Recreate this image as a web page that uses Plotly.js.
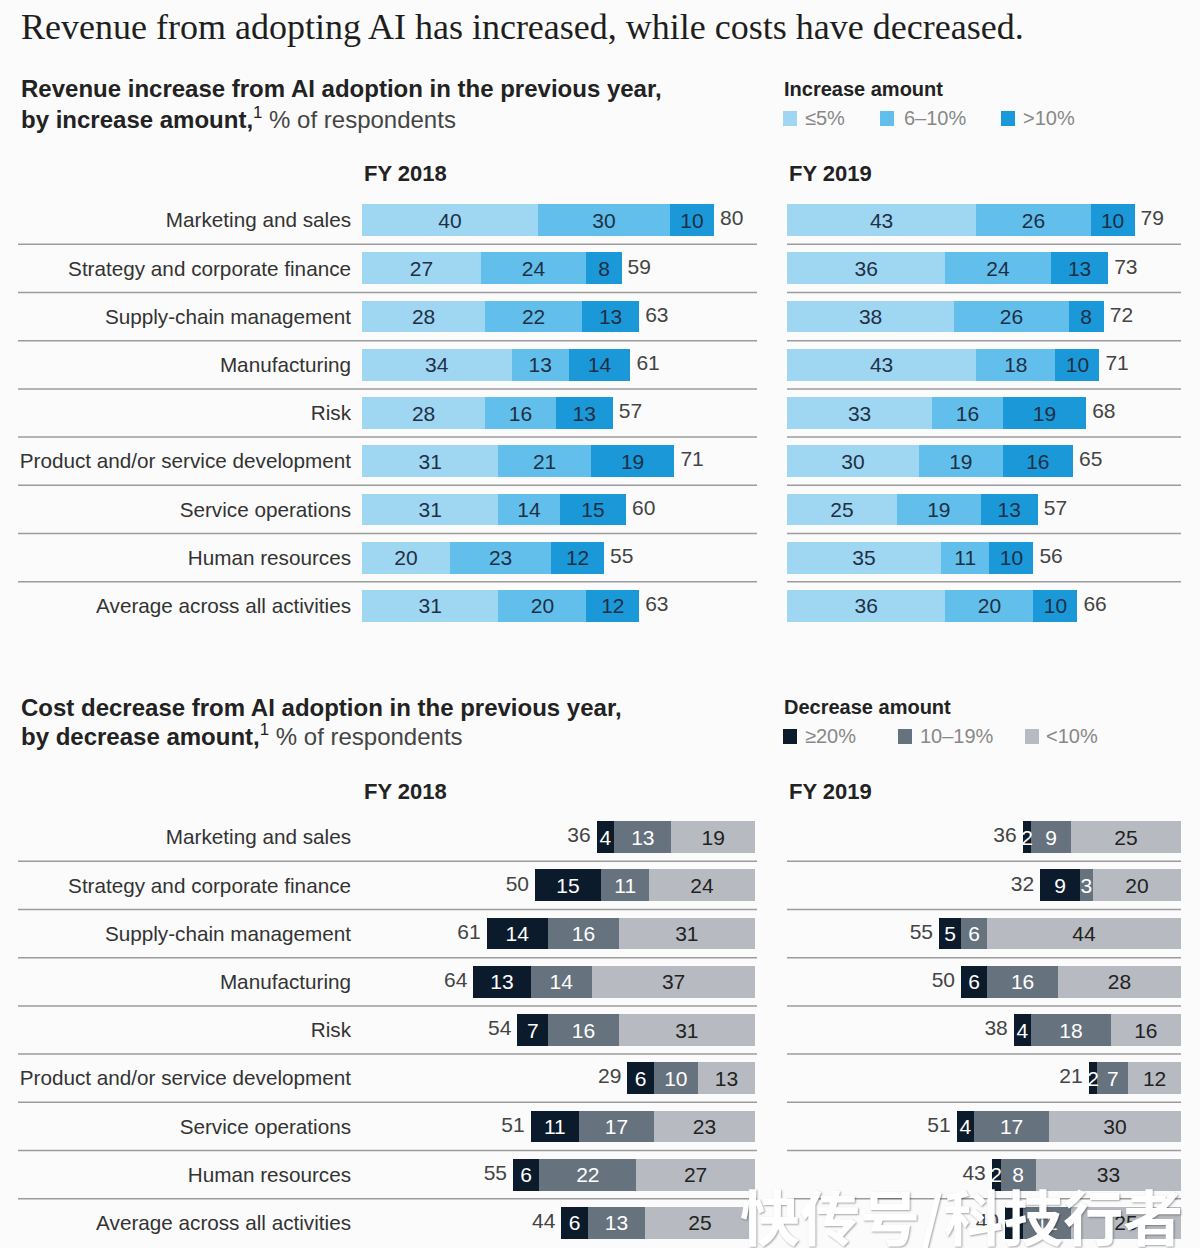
<!DOCTYPE html>
<html>
<head>
<meta charset="utf-8">
<script src="https://cdn.plot.ly/plotly-3.0.1.min.js"></script>
<style>html,body{margin:0;padding:0;background:#fbfbfb;overflow:hidden;}</style>
</head>
<body>
<div id="chart" style="width:1200px;height:1248px;"></div>
<script>
// ---------- DATA ----------
const categories = [
  "Marketing and sales",
  "Strategy and corporate finance",
  "Supply-chain management",
  "Manufacturing",
  "Risk",
  "Product and/or service development",
  "Service operations",
  "Human resources",
  "Average across all activities"
];

// Revenue increase, FY 2018
const rev2018_le5   = [40, 27, 28, 34, 28, 31, 31, 20, 31];
const rev2018_6to10 = [30, 24, 22, 13, 16, 21, 14, 23, 20];
const rev2018_gt10  = [10, 8, 13, 14, 13, 19, 15, 12, 12];
const rev2018_total = [80, 59, 63, 61, 57, 71, 60, 55, 63];

// Revenue increase, FY 2019
const rev2019_le5   = [43, 36, 38, 43, 33, 30, 25, 35, 36];
const rev2019_6to10 = [26, 24, 26, 18, 16, 19, 19, 11, 20];
const rev2019_gt10  = [10, 13, 8, 10, 19, 16, 13, 10, 10];
const rev2019_total = [79, 73, 72, 71, 68, 65, 57, 56, 66];

// Cost decrease, FY 2018
const cost2018_ge20   = [4, 15, 14, 13, 7, 6, 11, 6, 6];
const cost2018_10to19 = [13, 11, 16, 14, 16, 10, 17, 22, 13];
const cost2018_lt10   = [19, 24, 31, 37, 31, 13, 23, 27, 25];
const cost2018_total  = [36, 50, 61, 64, 54, 29, 51, 55, 44];

// Cost decrease, FY 2019
const cost2019_ge20   = [2, 9, 5, 6, 4, 2, 4, 2, 4];
const cost2019_10to19 = [9, 3, 6, 16, 18, 7, 17, 8, 11];
const cost2019_lt10   = [25, 20, 44, 28, 16, 12, 30, 33, 25];
const cost2019_total  = [36, 32, 55, 50, 38, 21, 51, 43, 40];

const revLegend  = ["≤5%", "6–10%", ">10%"];
const costLegend = ["≥20%", "10–19%", "<10%"];

// ---------- STYLE ----------
const W = 1200, H = 1248;
const PX_PER_UNIT = 4.4;
const SANS = "Liberation Sans, Arial, sans-serif";
const revColors  = ["#9fd7f3", "#62bfeb", "#1b98d8"];
const costColors = ["#0c1b2c", "#66727e", "#b7bbc1"];
const px = v => v / W;
const py = v => 1 - v / H;

function barTrace(x, name, color, textColor, xa, ya) {
  return {
    type: "bar", orientation: "h", x: x, y: categories, name: name,
    marker: {color: color, line: {width: 0}},
    width: 0.66,
    text: x.map(String), textposition: "inside", insidetextanchor: "middle",
    constraintext: "none",
    insidetextfont: {family: SANS, size: 21, color: textColor},
    xaxis: xa, yaxis: ya, showlegend: false,
    hoverinfo: "x+name"
  };
}
function totalTrace(tot, xa, ya, pos) {
  return {
    type: "scatter", mode: "markers+text", x: tot, y: categories,
    marker: {size: 8, opacity: 0},
    text: tot.map(String), textposition: pos,
    textfont: {family: SANS, size: 21, color: "#444"},
    xaxis: xa, yaxis: ya, showlegend: false, hoverinfo: "skip"
  };
}

const data = [
  barTrace(rev2018_le5,   revLegend[0], revColors[0], "#1f2f45", "x", "y"),
  barTrace(rev2018_6to10, revLegend[1], revColors[1], "#1f2f45", "x", "y"),
  barTrace(rev2018_gt10,  revLegend[2], revColors[2], "#1f2f45", "x", "y"),
  totalTrace(rev2018_total, "x", "y", "middle right"),
  barTrace(rev2019_le5,   revLegend[0], revColors[0], "#1f2f45", "x2", "y2"),
  barTrace(rev2019_6to10, revLegend[1], revColors[1], "#1f2f45", "x2", "y2"),
  barTrace(rev2019_gt10,  revLegend[2], revColors[2], "#1f2f45", "x2", "y2"),
  totalTrace(rev2019_total, "x2", "y2", "middle right"),
  barTrace(cost2018_lt10,   costLegend[2], costColors[2], "#222222", "x3", "y3"),
  barTrace(cost2018_10to19, costLegend[1], costColors[1], "#ffffff", "x3", "y3"),
  barTrace(cost2018_ge20,   costLegend[0], costColors[0], "#ffffff", "x3", "y3"),
  totalTrace(cost2018_total, "x3", "y3", "middle left"),
  barTrace(cost2019_lt10,   costLegend[2], costColors[2], "#222222", "x4", "y4"),
  barTrace(cost2019_10to19, costLegend[1], costColors[1], "#ffffff", "x4", "y4"),
  barTrace(cost2019_ge20,   costLegend[0], costColors[0], "#ffffff", "x4", "y4"),
  totalTrace(cost2019_total, "x4", "y4", "middle left")
];

const revTop = 196, revBot = 630;
const costTop = 813, costBot = 1247;

function xax(l, r, reversed, anchor) {
  const span = (r - l) / PX_PER_UNIT;
  return {domain: [px(l), px(r)], range: reversed ? [span, 0] : [0, span],
    showgrid: false, zeroline: false, showticklabels: false, showline: false,
    ticks: "", anchor: anchor, fixedrange: true};
}
function yax(top, bot, labels, anchor) {
  return {domain: [py(bot), py(top)], type: "category", categoryorder: "array",
    categoryarray: categories, range: [8.5, -0.5], showgrid: false, zeroline: false,
    showline: false, ticks: "", showticklabels: labels, ticklabelstandoff: 10,
    automargin: false,
    tickfont: {family: SANS, size: 20.7, color: "#333"}, anchor: anchor, fixedrange: true};
}

const shapes = [];
function seps(yref, l, r) {
  for (let i = 0; i < categories.length - 1; i++) {
    shapes.push({type: "line", xref: "paper", yref: yref, x0: px(l), x1: px(r),
      y0: i + 0.5, y1: i + 0.5, line: {color: "#9c9c9c", width: 1.5}});
  }
}
seps("y", 18, 757); seps("y2", 787, 1181);
seps("y3", 18, 757); seps("y4", 787, 1181);

function ann(text, x, y, size, opts) {
  return Object.assign({text: text, x: px(x), y: py(y), xref: "paper", yref: "paper",
    xanchor: "left", yanchor: "middle", showarrow: false,
    font: {family: SANS, size: size, color: "#222"}}, opts || {});
}

const annotations = [
  ann("Revenue from adopting AI has increased, while costs have decreased.", 19, 27, 36,
      {font: {family: "Liberation Serif, Times New Roman, serif", size: 36, color: "#1e1e1e"}}),
  ann("<b>Revenue increase from AI adoption in the previous year,</b>", 19, 89, 24),
  ann("<b>by increase amount,</b><sup>1</sup> <span style='color:#444'>% of respondents</span>", 19, 118, 24),
  ann("<b>FY 2018</b>", 362, 173, 22),
  ann("<b>FY 2019</b>", 787, 173, 22),
  ann("<b>Cost decrease from AI adoption in the previous year,</b>", 19, 707, 24),
  ann("<b>by decrease amount,</b><sup>1</sup> <span style='color:#444'>% of respondents</span>", 19, 735, 24),
  ann("<b>FY 2018</b>", 362, 791, 22),
  ann("<b>FY 2019</b>", 787, 791, 22),
  ann("<b>Increase amount</b>", 782, 89, 20),
  ann("<b>Decrease amount</b>", 782, 707, 20)
];

// Legend swatches + labels (drawn manually for exact placement)
function legendRow(labels, colors, y, swatchX, textX) {
  labels.forEach((lab, i) => {
    shapes.push({type: "rect", xref: "paper", yref: "paper",
      x0: px(swatchX[i]), x1: px(swatchX[i] + 14), y0: py(y + 8), y1: py(y - 7),
      fillcolor: colors[i], line: {width: 0}});
    annotations.push(ann(lab, textX[i], y, 20, {font: {family: SANS, size: 20, color: "#888"}}));
  });
}
legendRow(revLegend, revColors, 118, [783, 880, 1001], [803, 902, 1021]);
legendRow(costLegend, costColors, 736, [783, 898, 1025], [803, 918, 1044]);

annotations.push(ann("快传号/科技行者", 738, 1214, 60,
  {font: {family: "Noto Sans CJK SC, sans-serif", size: 60, color: "#ffffff",
          weight: 700, shadow: "1px 1px 2px rgba(0,0,0,0.35)"}}));

const layout = {
  width: W, height: H,
  margin: {l: 0, r: 0, t: 0, b: 0, autoexpand: false},
  paper_bgcolor: "#fbfbfb", plot_bgcolor: "rgba(0,0,0,0)",
  barmode: "stack", bargap: 0, showlegend: false,
  font: {family: SANS, color: "#222"},
  xaxis: xax(362, 757, false, "y"),
  yaxis: yax(revTop, revBot, true, "x"),
  xaxis2: xax(787, 1181, false, "y2"),
  yaxis2: yax(revTop, revBot, false, "x2"),
  xaxis3: xax(362, 755, true, "y3"),
  yaxis3: yax(costTop, costBot, true, "x3"),
  xaxis4: xax(787, 1181, true, "y4"),
  yaxis4: yax(costTop, costBot, false, "x4"),
  shapes: shapes,
  annotations: annotations
};

Plotly.newPlot("chart", data, layout, {displayModeBar: false, staticPlot: true});
</script>
</body>
</html>
